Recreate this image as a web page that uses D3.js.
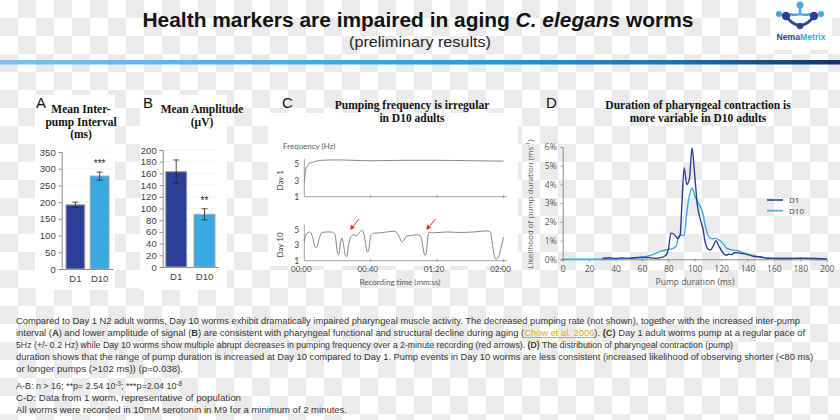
<!DOCTYPE html>
<html><head><meta charset="utf-8">
<script src="https://cdn.jsdelivr.net/npm/d3@7"></script>
<style>
html,body{margin:0;padding:0;background:#fff;}
svg{display:block;}
</style></head>
<body>
<svg id="c" width="840" height="420"></svg>
<script>
// ---------- DATA ----------
const barCategories = ["D1", "D10"];
const intervalValues = [192, 278];       // ms
const intervalErrors = [8, 12];
const intervalTicks = [0, 50, 100, 150, 200, 250, 300, 350];
const amplitudeValues = [163, 90];        // µV
const amplitudeErrors = [20, 9.5];
const amplitudeTicks = [0, 20, 40, 60, 80, 100, 120, 140, 160, 180, 200];
const significance = ["***", "**"];

const freqTime1 = [0, 0.5, 1, 2, 3, 5, 7, 10, 20, 30, 40, 60, 80, 100, 120];
const freqDay1 = [2.7, 3.8, 4.5, 4.8, 5.1, 5.2, 5.35, 5.45, 5.5, 5.45, 5.4, 5.45, 5.45, 5.4, 5.35];
const freqTime10 = [0, 1.4, 3.4, 5.0, 6.4, 7.4, 9.0, 10.5, 13.5, 16.5, 18.5, 19.9, 20.7, 21.9, 22.7, 23.5, 24.7, 25.5, 26.7, 27.9, 29.5, 31.6, 33.6, 34.6, 35.6, 36.8, 38.0, 38.8, 40.0, 41.6, 45.6, 49.6, 53.7, 55.7, 57.3, 58.7, 60.1, 61.7, 64.7, 67.7, 69.7, 70.8, 71.8, 72.6, 73.4, 74.4, 75.2, 77.8, 85.8, 93.9, 101.9, 109.9, 112.0, 113.4, 114.6, 115.6, 117.0, 118.4, 120.0];
const freqDay10 = [3.4, 4.45, 4.66, 4.0, 2.8, 2.7, 3.8, 4.6, 4.66, 4.66, 4.3, 2.1, 1.8, 3.4, 3.9, 3.2, 1.7, 1.5, 3.0, 4.0, 4.3, 4.2, 4.66, 4.9, 4.66, 3.4, 2.1, 2.35, 4.2, 4.5, 4.55, 4.66, 4.75, 4.6, 4.0, 3.4, 3.6, 4.15, 4.2, 4.3, 4.2, 3.6, 2.35, 1.7, 1.9, 4.0, 4.6, 4.55, 4.66, 4.6, 4.66, 4.8, 4.66, 3.0, 1.5, 1.2, 1.4, 2.55, 4.0];
const timeTicks = [0, 40, 80, 120];
const timeTickLabels = ["00:00", "00:40", "01:20", "02:00"];
const freqTicks = [1, 3, 5];
const arrowTimes = [27.5, 73.5];
const arrowValues = [4.9, 4.9];

const durD1 = [30, 35, 40, 45, 50, 55, 60, 65, 70, 75, 78, 80, 82, 84, 86, 87, 89, 90, 92, 94, 96, 98, 100, 102, 104, 106, 108, 110, 112, 114, 116, 118, 120, 122, 124, 126, 128, 130, 132, 135, 140, 145, 150, 155, 160, 170, 180, 190, 200];
const likeD1 = [0.05, 0.08, 0.05, 0.07, 0.05, 0.08, 0.1, 0.1, 0.05, 0.1, 0.2, 0.5, 1.4, 1.35, 1.2, 1.1, 1.3, 2.5, 4.9, 4.0, 4.3, 5.95, 4.5, 2.9, 2.2, 1.7, 0.9, 0.55, 0.5, 0.7, 1.0, 0.75, 0.5, 0.3, 0.22, 0.28, 0.25, 0.35, 0.35, 0.32, 0.25, 0.15, 0.12, 0.05, 0.05, 0.04, 0.06, 0.04, 0.02];
const durD10 = [0, 20, 45, 50, 55, 60, 65, 70, 75, 78, 80, 84, 86, 88, 90, 92, 94, 96, 98, 100, 102, 104, 106, 108, 110, 112, 114, 116, 118, 120, 122, 124, 126, 128, 130, 132, 135, 140, 145, 150, 155, 160, 170, 180, 190, 200];
const likeD10 = [0, 0, 0.02, 0.05, 0.08, 0.12, 0.18, 0.3, 0.45, 0.5, 0.52, 0.6, 0.7, 1.26, 1.3, 1.26, 2.5, 3.4, 3.8, 3.4, 3.1, 2.85, 2.5, 1.8, 1.3, 1.12, 1.1, 1.12, 1.05, 0.95, 0.8, 0.6, 0.55, 0.5, 0.48, 0.47, 0.4, 0.28, 0.2, 0.12, 0.07, 0.06, 0.05, 0.05, 0.05, 0.03];
const durTicks = [0, 20, 40, 60, 80, 100, 120, 140, 160, 180, 200];
const likeTicks = [0, 1, 2, 3, 4, 5, 6];
const seriesNames = ["D1", "D10"];

// ---------- STYLE ----------
const cDark = "#2c3f98", cLight = "#3aa9e2";
const svg = d3.select("#c");
const defs = svg.append("defs");

// checkerboard background
const pat = defs.append("pattern").attr("id", "chk").attr("patternUnits", "userSpaceOnUse")
  .attr("width", 36).attr("height", 36);
pat.append("rect").attr("width", 36).attr("height", 36).attr("fill", "#ffffff");
pat.append("rect").attr("x", 18).attr("y", 0).attr("width", 18).attr("height", 18).attr("fill", "#ebebeb");
pat.append("rect").attr("x", 0).attr("y", 18).attr("width", 18).attr("height", 18).attr("fill", "#ebebeb");
svg.append("rect").attr("width", 840).attr("height", 420).attr("fill", "url(#chk)");

// white boxes
[[35, 95, 80, 195], [140, 95, 87, 195], [268, 113, 250, 153], [770, 0, 62, 50]].forEach(r =>
  svg.append("rect").attr("x", r[0]).attr("y", r[1]).attr("width", r[2]).attr("height", r[3]).attr("fill", "#fff"));

// header
const t = svg.append("text").attr("x", 418).attr("y", 27).attr("text-anchor", "middle")
  .attr("font-family", "Liberation Sans, Arial, sans-serif").attr("font-weight", "bold")
  .attr("font-size", 20).attr("fill", "#111")
  .attr("textLength", 551).attr("lengthAdjust", "spacingAndGlyphs");
t.append("tspan").text("Health markers are impaired in aging ");
t.append("tspan").attr("font-style", "italic").text("C. elegans");
t.append("tspan").text(" worms");
svg.append("text").attr("x", 420).attr("y", 47).attr("text-anchor", "middle")
  .attr("font-family", "Liberation Sans, Arial, sans-serif").attr("font-size", 15).attr("fill", "#222")
  .attr("textLength", 142).attr("lengthAdjust", "spacingAndGlyphs")
  .text("(preliminary results)");

// gradient rule
const grad = defs.append("linearGradient").attr("id", "rule").attr("x1", "0").attr("x2", "1").attr("y1", "0").attr("y2", "0");
[[0, "#7cc0f2"], [0.35, "#3fb0ea"], [0.6, "#1e9bd8"], [0.8, "#1674b5"], [1, "#173466"]].forEach(s =>
  grad.append("stop").attr("offset", s[0]).attr("stop-color", s[1]));
svg.append("rect").attr("x", 0).attr("y", 60).attr("width", 840).attr("height", 4.5).attr("fill", "url(#rule)");

// logo
const lg = svg.append("g");
lg.append("path").attr("d", "M785,15 C790,22 795,25 800,26 C805,25 810,22 815,15").attr("fill", "none").attr("stroke", "#2f3f95").attr("stroke-width", 3);
lg.append("path").attr("d", "M800,6 L800,14 M800,14 C796,16 790,14 786,14 M800,14 C804,16 810,14 814,14").attr("fill", "none").attr("stroke", "#45a8e3").attr("stroke-width", 2.5);
[[800, 5, 3.5, "#45a8e3"], [779, 14, 3, "#45a8e3"], [821, 14, 3, "#45a8e3"], [786, 16, 4.2, "#2f3f95"], [814, 16, 4.2, "#2f3f95"], [800, 26, 3.2, "#2f3f95"]].forEach(c =>
  lg.append("circle").attr("cx", c[0]).attr("cy", c[1]).attr("r", c[2]).attr("fill", c[3]));
const lt = svg.append("text").attr("x", 801).attr("y", 40).attr("text-anchor", "middle")
  .attr("font-family", "Liberation Sans, Arial, sans-serif").attr("font-weight", "bold").attr("font-size", 9.5)
  .attr("textLength", 49).attr("lengthAdjust", "spacingAndGlyphs");
lt.append("tspan").attr("fill", "#2f3f95").text("Nema");
lt.append("tspan").attr("fill", "#3fa6e0").text("Metrix");

// panel letters and titles
const sans = "Liberation Sans, Arial, sans-serif", serif = "Liberation Serif, Times New Roman, serif";
[["A", 36, 108], ["B", 143, 108], ["C", 282, 108], ["D", 546, 108]].forEach(l =>
  svg.append("text").attr("x", l[1]).attr("y", l[2]).attr("font-family", sans).attr("font-size", 15).attr("fill", "#111").text(l[0]));
function title(lines, x, y0, dy) {
  lines.forEach((s, i) => svg.append("text").attr("x", x).attr("y", y0 + i * dy).attr("text-anchor", "middle")
    .attr("font-family", serif).attr("font-weight", "bold").attr("font-size", 11.5).attr("fill", "#111").text(s));
}
title(["Mean Inter-", "pump Interval", "(ms)"], 81, 113, 12.5);
title(["Mean Amplitude", "(µV)"], 202, 113, 12.5);
title(["Pumping frequency is irregular", "in D10 adults"], 412, 109, 12.5);
title(["Duration of pharyngeal contraction is", "more variable in D10 adults"], 698, 109, 12.5);

// ---------- Bar panels ----------
function barPanel(vals, errs, ticks, dom, yr, xr, pin, pout, sig) {
  const y = d3.scaleLinear().domain(dom).range(yr);
  const x = d3.scaleBand().domain(barCategories).range(xr).paddingInner(pin).paddingOuter(pout);
  const g = svg.append("g");
  g.selectAll(".gl").data(ticks.slice(1)).join("line").attr("x1", xr[0]).attr("x2", xr[1])
    .attr("y1", d => y(d)).attr("y2", d => y(d)).attr("stroke", "#f0f0f0").attr("stroke-width", 0.8);
  const ax = g.append("g").attr("transform", `translate(${xr[0]},0)`)
    .call(d3.axisLeft(y).tickValues(ticks).tickSize(3).tickPadding(3));
  ax.select(".domain").attr("stroke", "#8a8a8a");
  ax.selectAll(".tick line").attr("stroke", "#8a8a8a");
  ax.selectAll("text").attr("font-family", sans).attr("font-size", 9.5).attr("fill", "#404040");
  const bx = g.append("g").attr("transform", `translate(0,${yr[0]})`)
    .call(d3.axisBottom(x).tickSize(0).tickPadding(6));
  bx.select(".domain").attr("stroke", "#8a8a8a");
  bx.selectAll("text").attr("font-family", sans).attr("font-size", 9.5).attr("fill", "#404040");
  g.selectAll(".bar").data(vals).join("rect")
    .attr("x", (d, i) => x(barCategories[i])).attr("width", x.bandwidth())
    .attr("y", d => y(d)).attr("height", d => y(0) - y(d))
    .attr("fill", (d, i) => i === 0 ? cDark : cLight).attr("stroke", "#a6a6a6").attr("stroke-width", 1);
  vals.forEach((v, i) => {
    const cx = x(barCategories[i]) + x.bandwidth() / 2;
    g.append("line").attr("x1", cx).attr("x2", cx).attr("y1", y(v - errs[i])).attr("y2", y(v + errs[i])).attr("stroke", "#222").attr("stroke-width", 0.8);
    [v - errs[i], v + errs[i]].forEach(e => g.append("line").attr("x1", cx - 3).attr("x2", cx + 3).attr("y1", y(e)).attr("y2", y(e)).attr("stroke", "#222").attr("stroke-width", 0.8));
  });
  const cx2 = x(barCategories[1]) + x.bandwidth() / 2;
  g.append("text").attr("x", cx2).attr("y", y(vals[1] + errs[1]) - 5).attr("text-anchor", "middle")
    .attr("font-family", sans).attr("font-size", 10).attr("fill", "#222").text(sig);
}
barPanel(intervalValues, intervalErrors, intervalTicks, [0, 350], [269, 152], [61.7, 113.3], 0.226, 0.175, significance[0]);
barPanel(amplitudeValues, amplitudeErrors, amplitudeTicks, [0, 200], [267, 150], [162.7, 218], 0.258, 0.106, significance[1]);

// ---------- Panel C ----------
const cF = "Lato, Open Sans, sans-serif";
const xC = d3.scaleLinear().domain([0, 120]).range([304.3, 503.5]);
const y1 = d3.scaleLinear().domain([1, 5]).range([196.7, 164]);
const y10 = d3.scaleLinear().domain([1, 5]).range([260.7, 229.3]);
svg.append("text").attr("x", 283).attr("y", 149).attr("font-family", cF).attr("font-size", 8).attr("fill", "#555").text("Frequency (Hz)");
function freqPanel(y, times, vals, label, showX) {
  const g = svg.append("g");
  const yax = g.append("g").attr("transform", `translate(${xC(0)},0)`)
    .call(d3.axisLeft(y).tickValues(freqTicks).tickSize(0).tickPadding(5).tickFormat(d3.format("d")));
  yax.select(".domain").remove();
  yax.selectAll("text").attr("font-family", cF).attr("font-size", 8.5).attr("fill", "#444");
  g.append("line").attr("x1", xC(0)).attr("x2", xC(0)).attr("y1", y(5.6)).attr("y2", y(1)).attr("stroke", "#888").attr("stroke-width", 0.8);
  g.append("line").attr("x1", xC(0)).attr("x2", xC(122)).attr("y1", y(1)).attr("y2", y(1)).attr("stroke", "#888").attr("stroke-width", 0.8);
  g.selectAll(".tk").data(timeTicks.slice(1)).join("line").attr("x1", d => xC(d)).attr("x2", d => xC(d))
    .attr("y1", y(1) - 1.5).attr("y2", y(1) + 1.5).attr("stroke", "#888").attr("stroke-width", 0.8);
  const line = d3.line().x((d, i) => xC(times[i])).y(d => y(d)).curve(d3.curveMonotoneX);
  g.append("path").datum(vals).attr("d", line).attr("fill", "none").attr("stroke", "#777").attr("stroke-width", 0.9);
  const ly = (y(1) + y(5)) / 2;
  g.append("text").attr("transform", `translate(${283},${ly}) rotate(-90)`).attr("text-anchor", "middle")
    .attr("font-family", cF).attr("font-size", 8).attr("fill", "#444").text(label);
  if (showX) {
    g.selectAll(".tl").data(timeTicks).join("text").attr("x", d => xC(d) - 3).attr("y", y(1) + 11).attr("text-anchor", "middle")
      .attr("font-family", cF).attr("font-size", 8).attr("fill", "#444").text((d, i) => timeTickLabels[i]);
  }
}
freqPanel(y1, freqTime1, freqDay1, "Day 1", false);
freqPanel(y10, freqTime10, freqDay10, "Day 10", true);
svg.append("text").attr("x", 400).attr("y", 285).attr("text-anchor", "middle").attr("font-family", cF).attr("font-size", 8).attr("fill", "#555").text("Recording time (mm:ss)");
arrowTimes.forEach((tm, i) => {
  const tx = xC(tm), ty = y10(arrowValues[i]);
  svg.append("line").attr("x1", tx + 9).attr("y1", ty - 11).attr("x2", tx + 3).attr("y2", ty - 3.5).attr("stroke", "#ff2a2a").attr("stroke-width", 1);
  svg.append("path").attr("d", `M${tx},${ty} L${tx + 1},${ty - 5.5} L${tx + 5},${ty - 2.3} Z`).attr("fill", "#ff2a2a");
});

// ---------- Panel D ----------
const xD = d3.scaleLinear().domain([0, 200]).range([562.7, 826.7]);
const yD = d3.scaleLinear().domain([0, 6]).range([259.3, 147]);
const dF = "Open Sans, Lato, sans-serif";
const dax = svg.append("g").attr("transform", `translate(${xD(0)},0)`)
  .call(d3.axisLeft(yD).tickValues(likeTicks).tickSize(2).tickPadding(4).tickFormat(d => d + "%"));
dax.select(".domain").attr("stroke", "#888");
dax.selectAll(".tick line").attr("stroke", "#888");
dax.selectAll("text").attr("font-family", dF).attr("font-size", 8.5).attr("fill", "#555");
const dbx = svg.append("g").attr("transform", `translate(0,${yD(0)})`)
  .call(d3.axisBottom(xD).tickValues(durTicks).tickSize(2).tickPadding(5));
dbx.select(".domain").attr("stroke", "#888");
dbx.selectAll(".tick line").attr("stroke", "#888");
dbx.selectAll("text").attr("font-family", dF).attr("font-size", 8.5).attr("fill", "#555");
const lD = (xs) => d3.line().x((d, i) => xD(xs[i])).y(d => yD(d)).curve(d3.curveMonotoneX);
svg.append("path").datum(likeD10).attr("d", lD(durD10)).attr("fill", "none").attr("stroke", cLight).attr("stroke-width", 1.4);
svg.append("path").datum(likeD1).attr("d", lD(durD1)).attr("fill", "none").attr("stroke", cDark).attr("stroke-width", 1.4);
svg.append("text").attr("x", 695).attr("y", 285).attr("text-anchor", "middle").attr("font-family", dF).attr("font-size", 8.5).attr("fill", "#555").text("Pump duration (ms)");
const ylab = svg.append("text").attr("transform", `translate(533,204) rotate(-90)`).attr("text-anchor", "middle")
  .attr("font-family", dF).attr("font-size", 8).attr("fill", "#555");
ylab.append("tspan").text("Likelihood of pump duration (ms");
ylab.append("tspan").attr("dy", -3).attr("font-size", 5.5).text("-1");
ylab.append("tspan").attr("dy", 3).text(")");
seriesNames.forEach((n, i) => {
  const ly = 200 + i * 10.7;
  svg.append("line").attr("x1", 767).attr("x2", 783).attr("y1", ly).attr("y2", ly).attr("stroke", i === 0 ? cDark : cLight).attr("stroke-width", 1.6);
  svg.append("text").attr("x", 789).attr("y", ly + 3).attr("font-family", dF).attr("font-size", 8).attr("fill", "#444").text(n);
});

// ---------- Text block ----------
const pF = "Liberation Sans Narrow, Liberation Sans, Arial, sans-serif";
const para = [
  { y: 324, w: 784, parts: [["Compared to Day 1 N2 adult worms, Day 10 worms exhibit dramatically impaired pharyngeal muscle activity. The decreased pumping rate (not shown), together with the increased inter-pump"]] },
  { y: 336, w: 789, parts: [["interval ("], ["A", "b"], [") and lower amplitude of signal ("], ["B", "b"], [") are consistent with pharyngeal functional and structural decline during aging ("], ["Chow et al. 2006", "l"], ["). "], ["(C)", "b"], [" Day 1 adult worms pump at a regular pace of"]] },
  { y: 348, w: 717, parts: [["5Hz (+/- 0.2 Hz) while Day 10 worms show multiple abrupt decreases in pumping frequency over a 2-minute recording (red arrows). "], ["(D)", "b"], [" The distribution of pharyngeal contraction (pump)"]] },
  { y: 360, w: 797, parts: [["duration shows that the range of pump duration is increased at Day 10 compared to Day 1. Pump events in Day 10 worms are less consistent (increased likelihood of observing shorter (<80 ms)"]] },
  { y: 372, w: 167, parts: [["or longer pumps (>102 ms)) (p=0.038)."]] },
  { y: 389, w: 166, parts: [["A-B: n > 16; **p= 2.54 10"], ["-3", "s"], ["; ***p=2.04 10"], ["-8", "s"]] },
  { y: 401, w: 225, parts: [["C-D: Data from 1 worm, representative of population"]] },
  { y: 413, w: 331, parts: [["All worms were recorded in 10mM serotonin in M9 for a minimum of 2 minutes."]] }
];
para.forEach(p => {
  const tx = svg.append("text").attr("x", 16).attr("y", p.y).attr("font-family", pF).attr("font-size", 9.5).attr("fill", "#333")
    .attr("textLength", p.w).attr("lengthAdjust", "spacingAndGlyphs");
  p.parts.forEach(pt => {
    const ts = tx.append("tspan").text(pt[0]);
    if (pt[1] === "b") ts.attr("font-weight", "bold");
    if (pt[1] === "l") ts.attr("fill", "#f0a020").attr("text-decoration", "underline");
    if (pt[1] === "s") ts.attr("font-size", 6.5).attr("baseline-shift", "super");
  });
});
</script>
</body></html>
